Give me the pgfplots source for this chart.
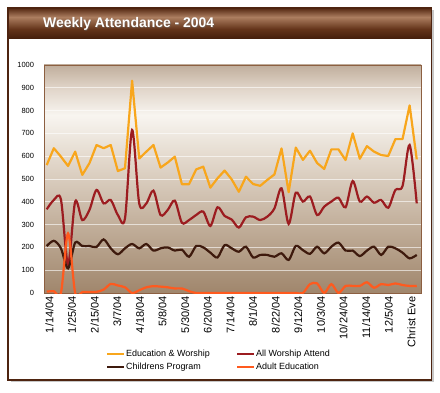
\documentclass[border=0pt]{standalone}
\usepackage{pgfplots}
\pgfplotsset{compat=1.18}
\usepackage{pgfplotstable}
\usepackage{fontspec}
\setmainfont{Liberation Sans}

\definecolor{ewcol}{RGB}{248,166,28}
\definecolor{awcol}{RGB}{156,28,32}
\definecolor{cpcol}{RGB}{62,26,13}
\definecolor{aecol}{RGB}{255,90,30}
\definecolor{axisbrown}{RGB}{140,95,65}
\definecolor{panelborder}{RGB}{78,36,16}

\definecolor{bgA}{RGB}{160,134,108}
\definecolor{bgB}{RGB}{194,175,155}
\definecolor{bgC}{RGB}{228,218,206}
\definecolor{bgD}{RGB}{248,245,240}
\definecolor{bgE}{RGB}{224,212,200}
\definecolor{bgF}{RGB}{192,174,156}
\pgfdeclareverticalshading{plotbg}{100bp}{color(0bp)=(bgA); color(25bp)=(bgA); color(40bp)=(bgB); color(55bp)=(bgC); color(64bp)=(bgD); color(70bp)=(bgE); color(75bp)=(bgF); color(100bp)=(bgF)}

\definecolor{tbA}{RGB}{70,32,12}
\definecolor{tbB}{RGB}{100,52,26}
\definecolor{tbC}{RGB}{172,126,96}
\definecolor{tbD}{RGB}{84,40,18}
\pgfdeclareverticalshading{titlebar}{100bp}{color(0bp)=(tbA); color(25bp)=(tbA); color(40bp)=(tbB); color(60bp)=(tbC); color(75bp)=(tbD); color(100bp)=(tbD)}

\pgfplotstableread{
i ew aw cp ae
0 561 367 206 6
1 635 408 229 8
2 598 410 196 0
3 557 125 108 262
4 620 401 221 0
5 518 320 206 4
6 569 364 206 4
7 649 452 202 5
8 635 393 235 15
9 649 408 196 40
10 535 342 170 33
11 547 327 196 25
12 931 715 215 0
13 590 393 196 12
14 620 393 215 25
15 649 449 186 30
16 550 342 196 28
17 572 364 200 25
18 598 405 186 20
19 477 308 190 20
20 477 320 159 8
21 542 342 206 0
22 554 357 200 0
23 462 294 177 0
24 503 376 156 0
25 537 338 210 0
26 498 322 196 0
27 444 287 181 0
28 510 332 203 0
29 478 335 156 0
30 470 320 167 0
31 496 335 167 0
32 520 371 159 0
33 634 459 174 0
34 442 303 145 0
35 638 440 206 0
36 584 401 188 0
37 624 423 172 39
38 570 342 203 42
39 544 379 174 0
40 630 401 203 39
41 630 418 221 0
42 583 376 186 31
43 700 491 186 31
44 589 401 162 31
45 644 423 186 47
46 620 396 203 23
47 605 408 167 39
48 601 374 203 35
49 675 452 196 42
50 675 469 177 35
51 823 649 152 31
52 586 393 167 31
}\datatable

\begin{document}
\begin{tikzpicture}[x=1bp,y=1bp]
\path[use as bounding box, fill=white] (0,0) rectangle (440,392);
\fill[black!22] (10.5,10) rectangle (434,381.5);
\fill[white] (8,12) rectangle (431.5,384);
\shade[shading=titlebar] (8,354) rectangle (431.5,384);
\draw[panelborder, line width=1.8bp] (8,12) rectangle (431.5,384);
\node[anchor=west, text=black!60, opacity=0.5, inner sep=0pt, font=\bfseries\fontsize{14}{16}\selectfont] at (43.7,367.3) {Weekly Attendance - 2004};
\node[anchor=west, text=white, inner sep=0pt, font=\bfseries\fontsize{14}{16}\selectfont] at (43,368) {Weekly Attendance - 2004};
\begin{axis}[
  at={(44bp,99bp)}, anchor=south west,
  width=377bp, height=228bp, scale only axis,
  xmin=-0.38, xmax=52.6, ymin=0, ymax=1000,
  ytick={0,100,...,1000},
  xtick={0.37,3.55,6.73,9.91,13.09,16.27,19.45,22.63,25.81,28.99,32.17,35.35,38.53,41.71,44.89,48.07,51.25},
  xticklabels={1/14/04,1/25/04,2/15/04,3/7/04,4/18/04,5/8/04,5/30/04,6/20/04,7/14/04,8/1/04,8/22/04,9/12/04,10/3/04,10/24/04,11/14/04,12/5/04,Christ Eve},
  xticklabel style={rotate=90, anchor=east, font=\fontsize{11}{12}\selectfont},
  yticklabel style={font=\fontsize{7.5}{9}\selectfont, xshift=-6.5bp},
  major tick length=0pt,
  ymajorgrids, major grid style={white, line width=0.7bp, opacity=0.6},
  axis line style={draw=axisbrown, line width=0.8bp},
  axis background/.style={shade, shading=plotbg},
  /pgf/number format/assume math mode=true,
  /pgf/number format/1000 sep={},
  legend columns=2,
  legend cell align=left,
  legend style={at={(0.156,-0.235)}, anchor=north west, draw=none, fill=none,
    font=\fontsize{9}{11}\selectfont, row sep=2bp, nodes={inner sep=1.5bp},
    /tikz/every even column/.append style={column sep=24.7bp}},
  legend image code/.code={\draw[#1, line width=2.2bp] (0bp,0bp) -- (16.5bp,0bp);},
  every axis plot/.append style={line width=2.2bp, mark=none},
]
\addplot[ewcol, sharp plot, line join=round] table[x=i, y=ew]{\datatable};
\addplot[awcol, smooth, tension=0.5] table[x=i, y=aw]{\datatable};
\addplot[cpcol, smooth, tension=0.5] table[x=i, y=cp]{\datatable};
\addplot[aecol, smooth, tension=0.5] table[x=i, y=ae]{\datatable};
\legend{Education \& Worship, All Worship Attend, Childrens Program, Adult Education}
\end{axis}
\end{tikzpicture}
\end{document}
